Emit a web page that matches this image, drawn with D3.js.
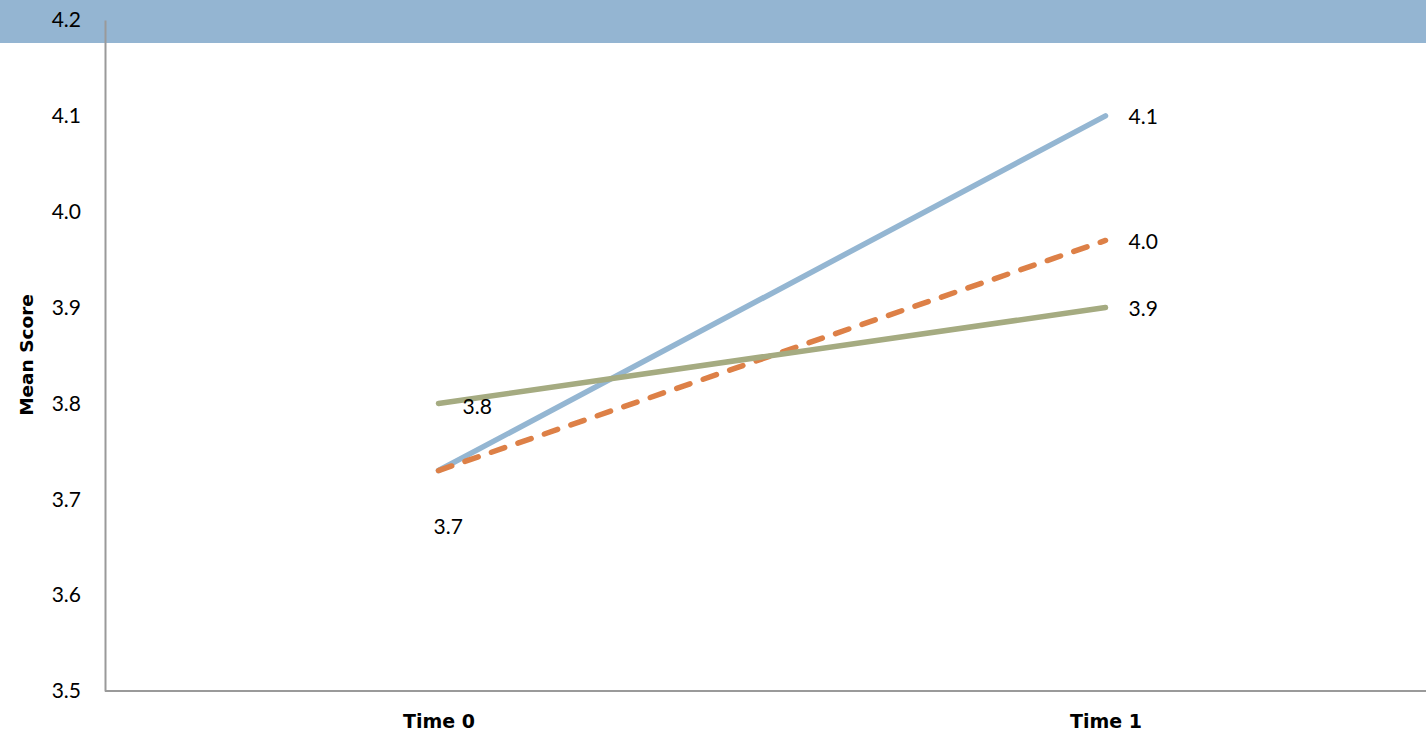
<!DOCTYPE html>
<html>
<head>
<meta charset="utf-8">
<script src="https://cdn.jsdelivr.net/npm/d3@7"></script>
<style>
  html, body { margin: 0; padding: 0; background: #fff; }
  svg { display: block; }
  text { font-family: "Lato", "DejaVu Sans", sans-serif; fill: #000; }
</style>
</head>
<body>
<svg id="chart" width="1426" height="734"></svg>
<script>
// Categories and series
const timepoints = ["Time 0", "Time 1"];
const seriesBlue = [3.73, 4.10];
const seriesOrange = [3.73, 3.97];
const seriesGreen = [3.80, 3.90];
const yTicks = [3.5, 3.6, 3.7, 3.8, 3.9, 4.0, 4.1, 4.2];

const W = 1426, H = 734;
const plotLeft = 105, plotTop = 20, plotBottom = 691, plotRight = 1439;
const boldFont = "'DejaVu Sans', sans-serif";

const svg = d3.select("#chart");

// header band
svg.append("rect")
  .attr("x", 0).attr("y", 0).attr("width", W).attr("height", 43)
  .attr("fill", "#94b5d2");

const x = d3.scalePoint().domain(timepoints).range([plotLeft, plotRight]).padding(0.5);
const y = d3.scaleLinear().domain([3.5, 4.2]).range([plotBottom, plotTop]);

// y axis
const yAxis = d3.axisLeft(y).tickValues(yTicks).tickFormat(d3.format(".1f")).tickSize(0).tickPadding(24);
const gy = svg.append("g").attr("transform", `translate(${plotLeft},0)`).call(yAxis);
gy.select(".domain").attr("stroke", "#9a9a9a").attr("stroke-width", 2);
gy.selectAll("text").style("font-size", "21px").style("font-family", "Lato, sans-serif").attr("fill", "#000");

// x axis
const xAxis = d3.axisBottom(x).tickSize(0).tickPadding(24);
const gx = svg.append("g").attr("transform", `translate(0,${plotBottom})`).call(xAxis);
gx.select(".domain").attr("stroke", "#9a9a9a").attr("stroke-width", 2)
  .attr("d", `M${plotLeft},0H${plotRight}`);
gx.selectAll("text").style("font-size", "19px").style("font-weight", "bold")
  .style("font-family", boldFont).attr("fill", "#000");

// y axis title
svg.append("text")
  .attr("transform", `translate(33,355) rotate(-90)`)
  .attr("text-anchor", "middle")
  .style("font-size", "18.5px").style("font-weight", "bold")
  .style("font-family", boldFont)
  .text("Mean Score");

const line = d3.line().x((d, i) => x(timepoints[i])).y(d => y(d));

const series = [
  { name: "blue", values: seriesBlue, color: "#94b6d2", dash: null },
  { name: "orange", values: seriesOrange, color: "#dd8047", dash: "14,14" },
  { name: "green", values: seriesGreen, color: "#a5ab81", dash: null }
];

series.forEach(s => {
  svg.append("path")
    .datum(s.values)
    .attr("d", line)
    .attr("fill", "none")
    .attr("stroke", s.color)
    .attr("stroke-width", 5.5)
    .attr("stroke-linecap", "round")
    .attr("stroke-dasharray", s.dash);
});

// value labels
const fmt = d3.format(".1f");
const labels = [
  { v: seriesGreen[0], i: 0, dx: 24, dy: 2 },
  { v: seriesBlue[0], i: 0, dx: -5, dy: 55 },
  { v: seriesBlue[1], i: 1, dx: 23, dy: 0 },
  { v: seriesOrange[1], i: 1, dx: 23, dy: 0 },
  { v: seriesGreen[1], i: 1, dx: 23, dy: 0 }
];
svg.append("g").selectAll("text").data(labels).join("text")
  .attr("x", d => x(timepoints[d.i]) + d.dx)
  .attr("y", d => y(d.v) + d.dy)
  .attr("dominant-baseline", "central")
  .style("font-size", "21px")
  .text(d => fmt(d.v));
</script>
</body>
</html>
